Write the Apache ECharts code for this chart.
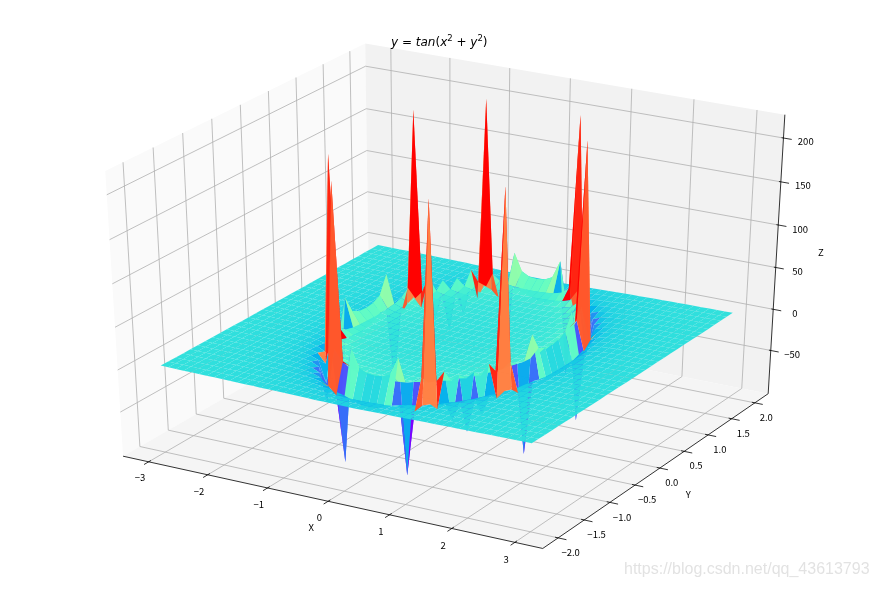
<!DOCTYPE html><html><head><meta charset="utf-8"><style>html,body{margin:0;padding:0;background:#fff}#c{width:878px;height:590px}</style>
<script src="https://cdn.jsdelivr.net/npm/echarts@6/dist/echarts.min.js"></script></head><body><div id="c"></div><script>
const xs=[-3,-2.872,-2.745,-2.617,-2.489,-2.362,-2.234,-2.106,-1.979,-1.851,-1.723,-1.596,-1.468,-1.34,-1.213,-1.085,-0.957,-0.83,-0.702,-0.574,-0.447,-0.319,-0.191,-0.064,0.064,0.191,0.319,0.447,0.574,0.702,0.83,0.957,1.085,1.213,1.34,1.468,1.596,1.723,1.851,1.979,2.106,2.234,2.362,2.489,2.617,2.745,2.872,3];
const ys=[-2,-1.871,-1.742,-1.613,-1.484,-1.355,-1.226,-1.097,-0.968,-0.839,-0.71,-0.581,-0.452,-0.323,-0.194,-0.065,0.065,0.194,0.323,0.452,0.581,0.71,0.839,0.968,1.097,1.226,1.355,1.484,1.613,1.742,1.871,2];
// Surface heights for one quarter of the grid; rows step away from the middle row, columns from the middle column.
const zQuarter=[
[0,.1,.3,.4,.5,.7,.9,1.2,1.6,2.1,3,5,14.1,-18.4,-5.5,-3.2,-2.2,-1.6,-1.2,-1,-.7,-.6,-.4,-.3,-.1],
[.1,.2,.3,.4,.6,.7,1,1.2,1.6,2.1,3.1,5.2,15.2,-16.9,-5.4,-3.1,-2.2,-1.6,-1.2,-1,-.7,-.6,-.4,-.3,-.1],
[.3,.3,.4,.5,.6,.8,1,1.3,1.7,2.2,3.3,5.7,19.9,-13.6,-5,-3,-2.1,-1.6,-1.2,-.9,-.7,-.6,-.4,-.3,-.1],
[.4,.4,.5,.6,.7,.9,1.1,1.4,1.8,2.5,3.7,6.8,40.6,-10.3,-4.5,-2.8,-2,-1.5,-1.2,-.9,-.7,-.5,-.4,-.2,-.1],
[.5,.6,.6,.7,.9,1,1.3,1.6,2.1,2.8,4.4,9.2,-96.7,-7.7,-3.9,-2.6,-1.9,-1.4,-1.1,-.9,-.7,-.5,-.4,-.2,-.1],
[.7,.7,.8,.9,1,1.2,1.5,1.9,2.4,3.4,5.7,16.5,-18.4,-5.8,-3.4,-2.3,-1.7,-1.3,-1,-.8,-.6,-.5,-.3,-.2,-.1],
[.9,1,1,1.1,1.3,1.5,1.8,2.2,3,4.5,8.8,219.7,-9.4,-4.5,-2.9,-2.1,-1.6,-1.2,-1,-.8,-.6,-.4,-.3,-.2,0],
[1.2,1.2,1.3,1.4,1.6,1.9,2.2,2.9,4.1,6.8,22.2,-16.9,-6,-3.5,-2.5,-1.8,-1.4,-1.1,-.9,-.7,-.5,-.4,-.3,-.1,0],
[1.6,1.6,1.7,1.8,2.1,2.4,3,4.1,6.3,15.2,-33.3,-7.7,-4.2,-2.9,-2.1,-1.6,-1.3,-1,-.8,-.6,-.5,-.3,-.2,-.1,0],
[2.1,2.1,2.2,2.5,2.8,3.4,4.5,6.8,15.2,-49.5,-9,-4.8,-3.2,-2.3,-1.8,-1.4,-1.1,-.9,-.7,-.6,-.4,-.3,-.2,-.1,.1],
[3,3.1,3.3,3.7,4.4,5.7,8.8,22.2,-33.3,-9,-5,-3.4,-2.5,-1.9,-1.5,-1.2,-1,-.8,-.6,-.5,-.4,-.2,-.1,0,.1],
[5,5.2,5.7,6.8,9.2,16.5,219.7,-16.9,-7.7,-4.8,-3.4,-2.5,-2,-1.6,-1.3,-1.1,-.9,-.7,-.6,-.4,-.3,-.2,-.1,0,.2],
[14.1,15.2,19.9,40.6,-96.7,-18.4,-9.4,-6,-4.2,-3.2,-2.5,-2,-1.6,-1.3,-1.1,-.9,-.7,-.6,-.5,-.3,-.2,-.1,0,.1,.2],
[-18.4,-16.9,-13.6,-10.3,-7.7,-5.8,-4.5,-3.5,-2.9,-2.3,-1.9,-1.6,-1.3,-1.1,-.9,-.8,-.6,-.5,-.4,-.3,-.2,-.1,.1,.2,.3],
[-5.5,-5.4,-5,-4.5,-3.9,-3.4,-2.9,-2.5,-2.1,-1.8,-1.5,-1.3,-1.1,-.9,-.8,-.7,-.5,-.4,-.3,-.2,-.1,0,.1,.2,.3],
[-3.2,-3.1,-3,-2.8,-2.6,-2.3,-2.1,-1.8,-1.6,-1.4,-1.2,-1.1,-.9,-.8,-.7,-.5,-.4,-.3,-.2,-.1,0,.1,.2,.3,.4],
[-2.2,-2.2,-2.1,-2,-1.9,-1.7,-1.6,-1.4,-1.3,-1.1,-1,-.9,-.7,-.6,-.5,-.4,-.3,-.2,-.1,0,.1,.2,.3,.4,.5]];
const xTicks=[-3,-2,-1,0,1,2,3];
const yTicks=[-2,-1.5,-1,-.5,0,.5,1,1.5,2];
const zTicks=[-50,0,50,100,150,200];
const Z=ys.map((_,j)=>xs.map((_,i)=>zQuarter[Math.abs(j-16)][Math.abs(i-24)]));
const xlim=[-3.3,3.3],ylim=[-2.2,2.2],zlim=[-96.7,219.7];
const el=30*Math.PI/180,az=-60*Math.PI/180,dist=10;
const n=[Math.cos(el)*Math.cos(az),Math.cos(el)*Math.sin(az),Math.sin(el)];
const u=[-n[1],n[0],0].map(v=>v/Math.hypot(n[0],n[1]));
const v=[n[1]*u[2]-n[2]*u[1],n[2]*u[0]-n[0]*u[2],n[0]*u[1]-n[1]*u[0]];
function proj(x,y,z){const P=[(x-xlim[0])/(xlim[1]-xlim[0])-.5,(y-ylim[0])/(ylim[1]-ylim[0])-.5,(z-zlim[0])/(zlim[1]-zlim[0])-.5];
 const xv=P[0]*u[0]+P[1]*u[1]+P[2]*u[2],yv=P[0]*v[0]+P[1]*v[1]+P[2]*v[2],zv=P[0]*n[0]+P[1]*n[1]+P[2]*n[2]-dist;
 return [xv/-zv,yv/-zv,10/zv];}
const dx=(xlim[1]-xlim[0])/48,dy=(ylim[1]-ylim[0])/48,dz=(zlim[1]-zlim[0])/48;
const X0=xlim[0]-dx,X1=xlim[1]+dx,Y0=ylim[0]-dy,Y1=ylim[1]+dy,Z0=zlim[0]-dz,Z1=zlim[1]+dz;
function rainbow(t){const r=Math.abs(2*t-.5),g=Math.sin(Math.PI*t),b=Math.cos(Math.PI*t/2);return [r,g,b].map(c=>Math.round(Math.min(1,c)*255));}
const faces=[];let mn=1e9,mx=-1e9;
for(let j=0;j<ys.length-1;j++)for(let i=0;i<xs.length-1;i++){
 const c=[[i,j],[i+1,j],[i+1,j+1],[i,j+1]].map(([a,b])=>[xs[a],ys[b],Z[b][a]]);
 const pts=c.map(p=>proj(p[0],p[1],p[2]));const m=c.reduce((s,p)=>s+p[2],0)/4;const d=pts.reduce((s,p)=>s+p[2],0)/4;
 mn=Math.min(mn,m);mx=Math.max(mx,m);faces.push({pts,m,d});}
faces.sort((a,b)=>b.d-a.d);
const lines=[];
function L(a,b,color,w){lines.push({a:proj(...a),b:proj(...b),color,w});}
const grid='#b0b0b0';
xTicks.forEach(t=>{L([t,Y0,Z0],[t,Y1,Z0],grid,.8);L([t,Y1,Z0],[t,Y1,Z1],grid,.8);});
yTicks.forEach(t=>{L([X1,t,Z0],[X0,t,Z0],grid,.8);L([X0,t,Z0],[X0,t,Z1],grid,.8);});
zTicks.forEach(t=>{L([X0,Y0,t],[X0,Y1,t],grid,.8);L([X0,Y1,t],[X1,Y1,t],grid,.8);});
const ink='#000';
L([X0,Y0,Z0],[X1,Y0,Z0],ink,.8);L([X1,Y0,Z0],[X1,Y1,Z0],ink,.8);L([X1,Y1,Z0],[X1,Y1,Z1],ink,.8);
xTicks.forEach(t=>L([t,Y0-.08,Z0],[t,Y0+.04,Z0],ink,.8));
yTicks.forEach(t=>L([X1+.13,t,Z0],[X1-.05,t,Z0],ink,.8));
zTicks.forEach(t=>L([X1+.13,Y1,t],[X1-.03,Y1,t],ink,.8));
const texts=[];
function T(p,s){const q=proj(...p);texts.push({q,s});}
const tickFont='"Noto Sans CJK SC"';
const fmt=t=>String(t).replace('-','\u2212');
xTicks.forEach(t=>T([t,Y0-.16,Z0-13],fmt(t)));
yTicks.forEach(t=>T([X1+.2,t,Z0-14.5],fmt(t.toFixed(1))));
zTicks.forEach(t=>T([X1+.35,Y1,t],fmt(t)));
T([0,Y0-.31,Z0-18],'X');T([X1+.47,0,Z0-24],'Y');T([X1+.7,Y1,77],'Z');
const polyItem=(pts,api,style)=>({type:'polygon',shape:{points:pts.map(p=>api.coord([p[0],p[1]]))},style,silent:true});
const paneSeries=[
 [[X0,Y0,Z0],[X0,Y1,Z0],[X0,Y1,Z1],[X0,Y0,Z1],'#fafafa'],
 [[X0,Y1,Z0],[X1,Y1,Z0],[X1,Y1,Z1],[X0,Y1,Z1],'#f2f2f2'],
 [[X0,Y0,Z0],[X1,Y0,Z0],[X1,Y1,Z0],[X0,Y1,Z0],'#f5f5f5']];
const chart=echarts.init(document.getElementById('c'),null,{renderer:'canvas'});
const df='DejaVu Sans';
chart.setOption({animation:false,backgroundColor:'#fff',
 title:{text:'{i|y}{n| = }{i|tan}{n|(}{i|x}{s|2}{n| + }{i|y}{s|2}{n|)}',left:391,top:34,padding:[0,0,0,0],textStyle:{fontFamily:df,fontSize:12,fontWeight:'normal',color:'#000',
  rich:{i:{fontStyle:'italic',fontFamily:df,fontSize:12,lineHeight:15,verticalAlign:'bottom'},n:{fontFamily:df,fontSize:12,lineHeight:15,verticalAlign:'bottom'},s:{fontFamily:df,fontSize:8.5,lineHeight:9,verticalAlign:'top'}}}},
 grid:{left:0,right:0,top:0,bottom:0},
 xAxis:{type:'value',min:-.09694,max:.09186,show:false},yAxis:{type:'value',min:-.09694,max:.09186,show:false},
 graphic:[{type:'text',left:624,top:562,style:{text:'https://blog.csdn.net/qq_43613793',fontFamily:'Liberation Sans',fontSize:16,fill:'rgba(190,190,190,.45)'}}],
 series:[
 {type:'custom',coordinateSystem:'cartesian2d',z:1,data:paneSeries.map((_, i)=>i),progressive:0,silent:true,clip:false,renderItem:(p,api)=>{const q=paneSeries[p.dataIndex];return polyItem(q.slice(0,4).map(a=>proj(...a)),api,{fill:q[4]});}},
 {type:'custom',coordinateSystem:'cartesian2d',z:2,data:lines.map((_, i)=>i),progressive:0,silent:true,clip:false,renderItem:(p,api)=>{const l=lines[p.dataIndex];const a=api.coord([l.a[0],l.a[1]]),b=api.coord([l.b[0],l.b[1]]);return {type:'line',shape:{x1:a[0],y1:a[1],x2:b[0],y2:b[1]},style:{stroke:l.color,lineWidth:l.w}};}},
 {type:'custom',coordinateSystem:'cartesian2d',z:3,data:faces.map((_, i)=>i),progressive:0,silent:true,clip:false,renderItem:(p,api)=>{const f=faces[p.dataIndex];const c=rainbow((f.m-mn)/(mx-mn));return polyItem(f.pts,api,{fill:`rgba(${c[0]},${c[1]},${c[2]},.985)`});}},
 {type:'custom',coordinateSystem:'cartesian2d',z:4,data:texts.map((_, i)=>i),progressive:0,silent:true,clip:false,renderItem:(p,api)=>{const t=texts[p.dataIndex];const a=api.coord([t.q[0],t.q[1]]);return {type:'text',x:a[0],y:a[1],style:{text:t.s,fontFamily:tickFont,fontSize:9.5,fill:'#000',align:'center',verticalAlign:'middle'}};}}
 ]});
</script></body></html>
